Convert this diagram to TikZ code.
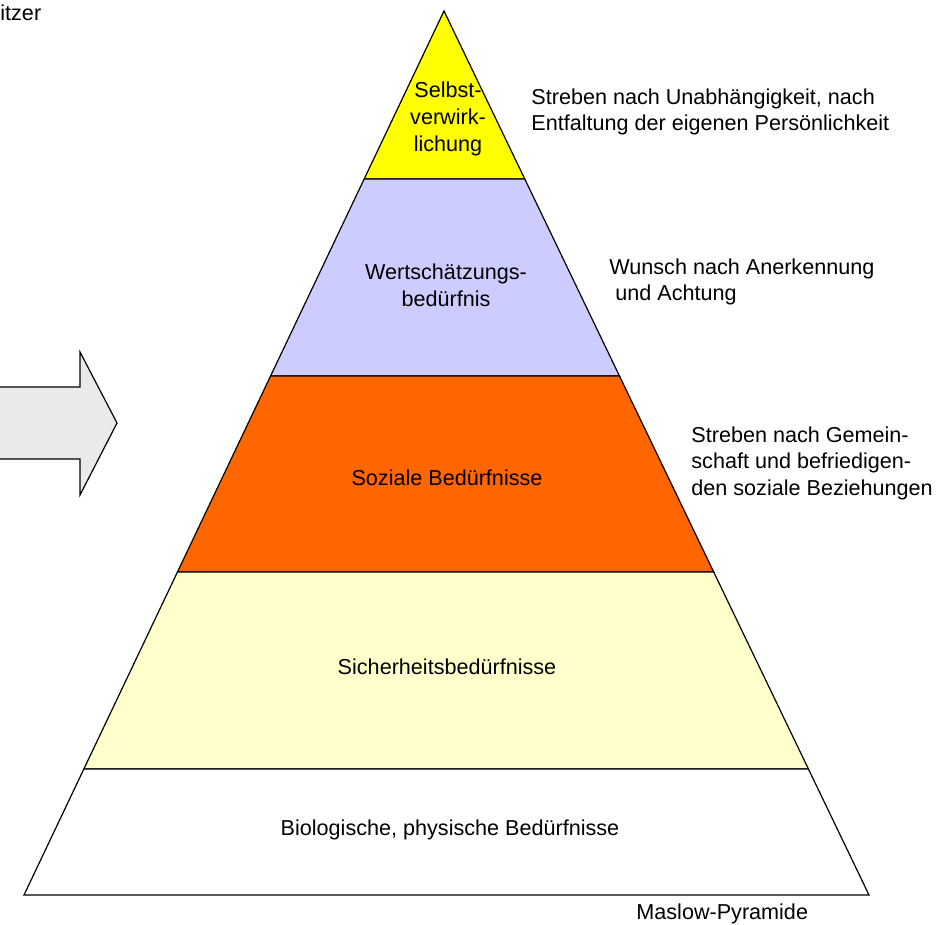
\documentclass[tikz,border=0pt]{standalone}
\usepackage{fontspec}
\setmainfont{Liberation Sans}
\usepackage[svgnames]{xcolor}
\usetikzlibrary{calc}
\colorlet{selbst}{Yellow}
\definecolor{wert}{HTML}{CCCCFF}
\definecolor{sozial}{HTML}{FF6600}
\definecolor{sicher}{HTML}{FFFFCC}
\colorlet{basis}{white}
\definecolor{pfeil}{HTML}{EAEAEA}

\begin{document}
\begin{tikzpicture}[
  x=0.5pt, y=-0.5pt,
  every node/.style={
    font=\fontsize{10.8}{13.3}\selectfont,
  },
  layer/.style={
    draw=black,
    line width=0.6pt,
    line join=miter,
  },
  inner/.style={
    align=center,
  },
  note/.style={
    align=left,
    anchor=north west,
    inner sep=0pt,
  }
]
\clip (0,0) rectangle (943,925);
\coordinate (apex) at (444,11);
\coordinate (bl) at (24,895);
\coordinate (br) at (869,895);
% the five layers, from the top down
\foreach[evaluate=\ya as \fa using (\ya-11)/884,
         evaluate=\yb as \fb using (\yb-11)/884] \ya/\yb/\col in
  {11/179/selbst,179/376/wert,376/572/sozial,572/769/sicher,769/895/basis} {
  \filldraw[layer,fill=\col] ($(apex)!\fa!(bl)$) -- ($(apex)!\fa!(br)$)
    -- ($(apex)!\fb!(br)$) -- ($(apex)!\fb!(bl)$) -- cycle;
}
% arrow on the left
\draw[layer,fill=pfeil] (-20,387) -- (80,387) -- (80,352) -- (117,423)
  -- (80,495) -- (80,459) -- (-20,459) -- cycle;

\node[inner] (selbstT) at (448,119) {Selbst-\\verwirk-\\lichung};
\node[inner] (wertT) at (446,285) {Wertschätzungs-\\bedürfnis};
\node[inner] (sozialT) at (447,478) {Soziale Bedürfnisse};
\node[inner] (sicherT) at (447,667) {Sicherheitsbedürfnisse};
\node[inner] (basisT) at (450,830) {Biologische, physische Bedürfnisse};

\node[note] (selbstN) at (531,88) {Streben nach Unabhängigkeit, nach\\Entfaltung der eigenen Persönlichkeit};
\node[note] (wertN) at (609,258) {Wunsch nach Anerkennung\\\hspace*{3pt}und Achtung};
\node[note] (sozialN) at (691,426) {Streben nach Gemein-\\schaft und befriedigen-\\den soziale Beziehungen};
\node[note] (titel) at (636,903) {Maslow-Pyramide};
\node[note] (oben) at (0,4) {itzer};
\end{tikzpicture}
\end{document}
